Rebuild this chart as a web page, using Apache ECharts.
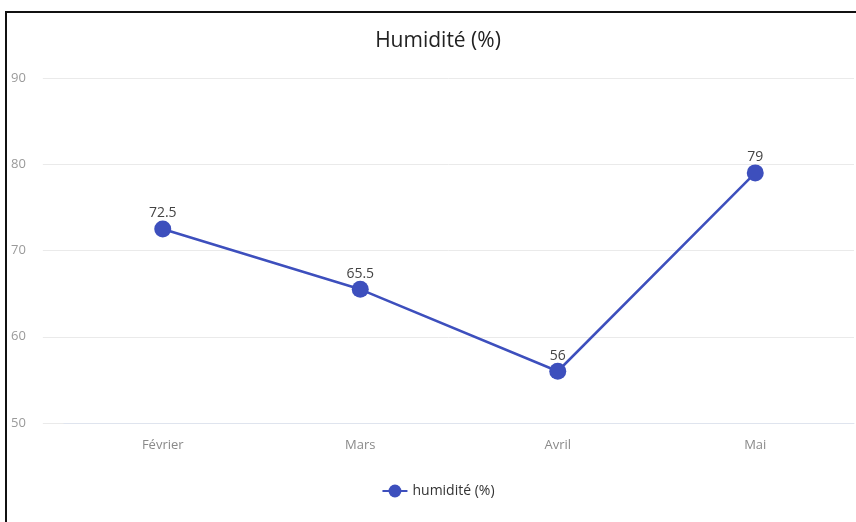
<!DOCTYPE html>
<html>
<head>
<meta charset="utf-8">
<script src="https://cdn.jsdelivr.net/npm/echarts@6/dist/echarts.min.js"></script>
<style>
  html, body { margin: 0; padding: 0; background: #fff; overflow: hidden; width: 856px; height: 522px; }
  #frame { position: absolute; left: 5px; top: 11px; width: 900px; height: 600px; border: 2px solid #111; box-sizing: border-box; }
  #chart { position: absolute; left: 8px; top: 0; width: 860px; height: 522px; }
</style>
</head>
<body>
<div id="frame"></div>
<div id="chart"></div>
<script>
// Monthly humidity readings
const months = ['Février', 'Mars', 'Avril', 'Mai'];
const humidity = [72.5, 65.5, 56, 79];
const seriesName = 'humidité (%)';
const chartTitle = 'Humidité (%)';
const yMin = 50, yMax = 90, yStep = 10;

const font = '"Open Sans", "Noto Sans", sans-serif';
const lineColor = '#3d4fbd';

const chart = echarts.init(document.getElementById('chart'), null, { renderer: 'canvas' });
chart.setOption({
  animation: false,
  textStyle: { fontFamily: font },
  title: {
    text: chartTitle,
    left: 'center',
    top: 26,
    textStyle: { fontFamily: font, fontSize: 21, fontWeight: 'normal', color: '#222' }
  },
  legend: {
    bottom: 19,
    left: 'center',
    itemWidth: 25,
    itemHeight: 16,
    textStyle: { fontFamily: font, fontSize: 14, color: '#333' },
    data: [seriesName]
  },
  grid: [
    // background grid carrying the value scale and its gridlines
    { left: 32, right: 14, top: 78, bottom: 99 },
    // plotting grid for the category axis
    { left: 56, right: 14, top: 78, bottom: 99 }
  ],
  xAxis: [
    { gridIndex: 0, type: 'category', data: months, show: false },
    {
      gridIndex: 1,
      type: 'category',
      data: months,
      boundaryGap: true,
      axisLine: { show: true, lineStyle: { color: '#dfe4ee', width: 1 } },
      axisTick: { show: false },
      axisLabel: { color: '#8a8a8a', fontSize: 13, margin: 16, fontFamily: font }
    }
  ],
  yAxis: [
    {
      gridIndex: 0,
      type: 'value',
      min: yMin,
      max: yMax,
      interval: yStep,
      axisLine: { show: false },
      axisTick: { show: false },
      axisLabel: { color: '#9a9a9a', fontSize: 13, margin: 17, fontFamily: font },
      splitLine: { lineStyle: { color: '#eaeaea', width: 1 } }
    },
    {
      gridIndex: 1,
      type: 'value',
      min: yMin,
      max: yMax,
      interval: yStep,
      show: false,
      splitLine: { show: false }
    }
  ],
  series: [
    {
      name: seriesName,
      type: 'line',
      xAxisIndex: 1,
      yAxisIndex: 1,
      data: humidity,
      symbol: 'circle',
      symbolSize: 17,
      itemStyle: { color: lineColor },
      lineStyle: { color: lineColor, width: 2.5 },
      label: {
        show: true,
        position: 'top',
        distance: 0,
        color: '#444',
        fontSize: 14,
        fontFamily: font
      }
    }
  ]
});
</script>
</body>
</html>
